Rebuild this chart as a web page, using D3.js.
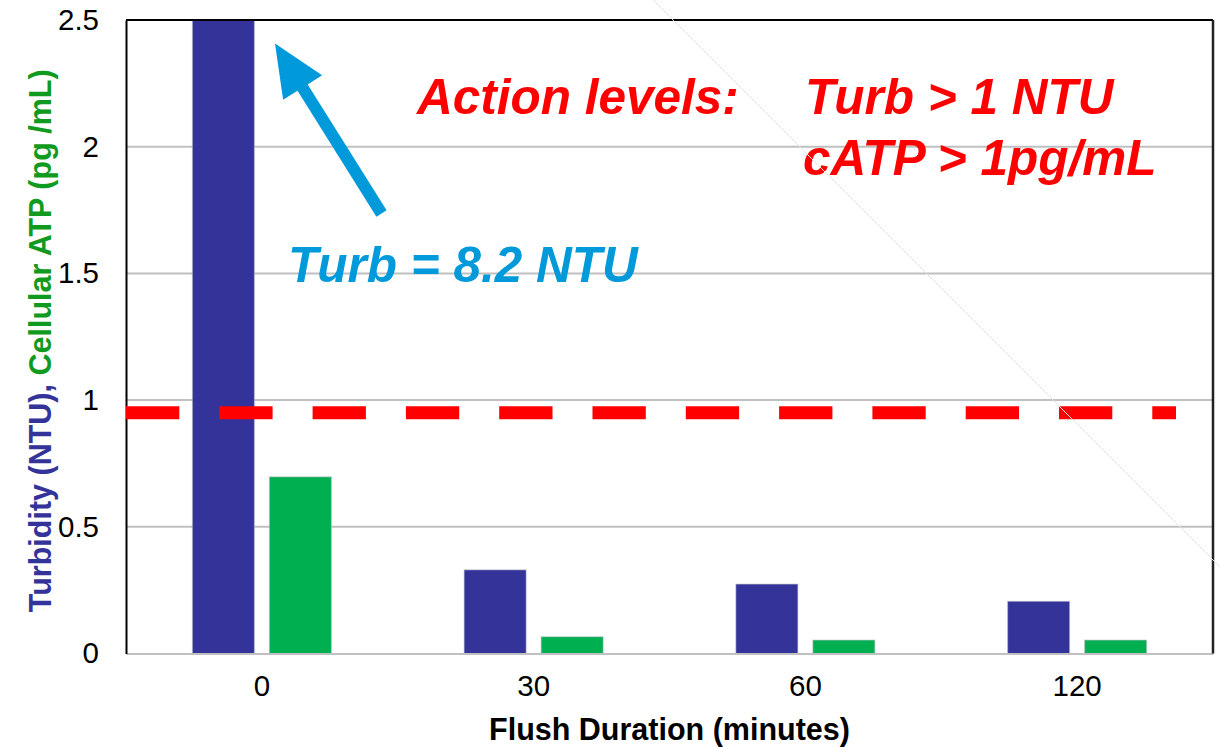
<!DOCTYPE html>
<html>
<head>
<meta charset="utf-8">
<script src="https://cdn.jsdelivr.net/npm/d3@7/dist/d3.min.js"></script>
<style>
  body { margin: 0; background: #fff; }
  svg { display: block; }
</style>
</head>
<body>
<div id="chart"></div>
<script>
// Data
const durations = ["0", "30", "60", "120"];
const seriesKeys = ["turbidity", "catp"];
const turbidity = [8.2, 0.33, 0.274, 0.206];   // NTU (first bar runs off the top)
const cellularATP = [0.697, 0.066, 0.053, 0.053]; // pg/mL
const yTicks = [0, 0.5, 1, 1.5, 2, 2.5];
const yTickLabels = ["0", "0.5", "1", "1.5", "2", "2.5"];
const actionLevel = 0.95;

const rows = durations.map((d, i) => ({duration: d, turbidity: turbidity[i], catp: cellularATP[i]}));

// Dimensions
const W = 1220, H = 747;
const margin = {top: 20, right: 7, bottom: 93.5, left: 126};
const width = W - margin.left - margin.right;
const height = H - margin.top - margin.bottom;
const font = "Arial, 'Liberation Sans', sans-serif";

const svgRoot = d3.select("#chart")
    .append("svg")
    .attr("width", W)
    .attr("height", H);

const svg = svgRoot.append("g")
    .attr("transform", `translate(${margin.left},${margin.top})`);

// Scales
const x0 = d3.scaleBand()
    .domain(durations)
    .range([0, width])
    .padding(0);

const x1 = d3.scaleBand()
    .domain(seriesKeys)
    .range([0, x0.bandwidth()])
    .paddingInner(0.195)
    .paddingOuter(0.862);

const y = d3.scaleLinear()
    .domain([0, 2.5])
    .range([height, 0]);

const color = d3.scaleOrdinal()
    .domain(seriesKeys)
    .range(["#333399", "#00B050"]);

// Gridlines
svg.append("g")
    .selectAll("line")
    .data(yTicks.filter(t => t > 0 && t < 2.5))
    .join("line")
    .attr("x1", 0)
    .attr("x2", width)
    .attr("y1", d => y(d))
    .attr("y2", d => y(d))
    .attr("stroke", "#c0c0c0")
    .attr("stroke-width", 2);

// Clip so the 8.2 NTU bar stops at the top of the plot
svg.append("clipPath")
    .attr("id", "plot-clip")
    .append("rect")
    .attr("width", width)
    .attr("height", height);

// Bars
svg.append("g")
    .attr("clip-path", "url(#plot-clip)")
    .selectAll("g")
    .data(rows)
    .join("g")
    .attr("transform", d => `translate(${x0(d.duration)},0)`)
    .selectAll("rect")
    .data(d => seriesKeys.map(k => ({key: k, value: d[k]})))
    .join("rect")
    .attr("x", d => x1(d.key))
    .attr("y", d => y(d.value))
    .attr("width", x1.bandwidth())
    .attr("height", d => y(0) - y(d.value))
    .attr("fill", d => color(d.key))
    .attr("stroke", "#b8b8c8")
    .attr("stroke-opacity", 0.6)
    .attr("stroke-width", 1);

// Bottom axis line (gray) and labels
const xAxis = svg.append("g")
    .attr("transform", `translate(0,${height})`)
    .call(d3.axisBottom(x0).tickSize(0).tickPadding(22));
xAxis.select(".domain").attr("stroke", "#c0c0c0").attr("stroke-width", 2);
xAxis.selectAll("text")
    .attr("font-family", font)
    .attr("font-size", 29.5)
    .attr("fill", "#000");

// Left axis
const yAxis = svg.append("g")
    .call(d3.axisLeft(y).tickValues(yTicks).tickSize(0).tickPadding(27)
        .tickFormat((d, i) => yTickLabels[i]));
yAxis.select(".domain").attr("stroke", "#000").attr("stroke-width", 2);
yAxis.selectAll("text")
    .attr("font-family", font)
    .attr("font-size", 29.5)
    .attr("fill", "#000");

// Top and right frame
svg.append("line")
    .attr("x1", 0).attr("x2", width)
    .attr("y1", 0).attr("y2", 0)
    .attr("stroke", "#000").attr("stroke-width", 2);
svg.append("line")
    .attr("x1", width).attr("x2", width)
    .attr("y1", 0).attr("y2", height)
    .attr("stroke", "#222").attr("stroke-width", 2.5);

// Action level dashed line
svg.append("line")
    .attr("x1", 0)
    .attr("x2", width - 37)
    .attr("y1", y(actionLevel))
    .attr("y2", y(actionLevel))
    .attr("stroke", "#FF0000")
    .attr("stroke-width", 13)
    .attr("stroke-dasharray", "53.3 40");

// Arrow pointing at the clipped bar
const arrowColor = "#0099DA";
const tail = [255.5, 193.5], tip = [149, 23.5];
const ang = Math.atan2(tip[1] - tail[1], tip[0] - tail[0]);
const headLen = 52, headHalf = 23, shaftHalf = 6;
const ux = Math.cos(ang), uy = Math.sin(ang), px = -uy, py = ux;
const base = [tip[0] - ux * headLen, tip[1] - uy * headLen];
const arrowPts = [
    [tail[0] + px * shaftHalf, tail[1] + py * shaftHalf],
    [base[0] + px * shaftHalf, base[1] + py * shaftHalf],
    [base[0] + px * headHalf, base[1] + py * headHalf],
    tip,
    [base[0] - px * headHalf, base[1] - py * headHalf],
    [base[0] - px * shaftHalf, base[1] - py * shaftHalf],
    [tail[0] - px * shaftHalf, tail[1] - py * shaftHalf]
];
svg.append("path")
    .attr("d", d3.line()(arrowPts) + "Z")
    .attr("fill", arrowColor);

// Annotation texts
const notes = [
    {text: "Turb = 8.2 NTU", x: 162, y: 262, fill: arrowColor},
    {text: "Action levels:", x: 291, y: 94, fill: "#FF0000"},
    {text: "Turb > 1 NTU", x: 679, y: 94, fill: "#FF0000"},
    {text: "cATP > 1pg/mL", x: 677, y: 155, fill: "#FF0000"}
];
svg.append("g")
    .selectAll("text")
    .data(notes)
    .join("text")
    .attr("x", d => d.x)
    .attr("y", d => d.y)
    .attr("fill", d => d.fill)
    .attr("font-family", font)
    .attr("font-size", 49.5)
    .attr("font-weight", "bold")
    .attr("font-style", "italic")
    .text(d => d.text);

// Axis titles
svgRoot.append("text")
    .attr("x", margin.left + width / 2)
    .attr("y", 740)
    .attr("text-anchor", "middle")
    .attr("font-family", font)
    .attr("font-size", 30.5)
    .attr("font-weight", "bold")
    .attr("fill", "#000")
    .text("Flush Duration (minutes)");

const yTitle = svgRoot.append("text")
    .attr("transform", `translate(51,${margin.top + height / 2 + 4}) rotate(-90)`)
    .attr("text-anchor", "middle")
    .attr("font-family", font)
    .attr("font-size", 30.5)
    .attr("font-weight", "bold");
yTitle.append("tspan").attr("fill", "#333399").text("Turbidity (NTU), ");
yTitle.append("tspan").attr("fill", "#109A20").text("Cellular ATP (pg /mL)");

// Faint diagonal line left over from the slide
svgRoot.append("line")
    .attr("x1", 653).attr("y1", 0)
    .attr("x2", 1220).attr("y2", 567)
    .attr("stroke", "#e4e4e4")
    .attr("stroke-width", 1);
</script>
</body>
</html>
